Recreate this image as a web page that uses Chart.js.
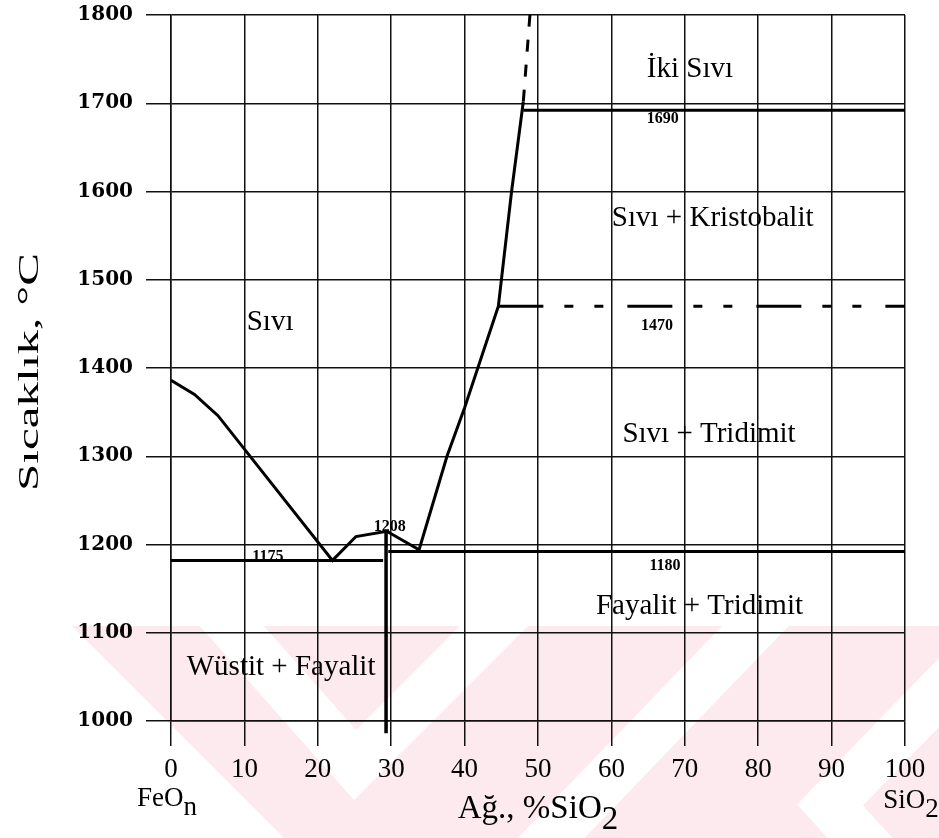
<!DOCTYPE html>
<html>
<head>
<meta charset="utf-8">
<script src="https://cdn.jsdelivr.net/npm/chart.js@4.4.0/dist/chart.umd.min.js"></script>
<style>
  html, body { margin: 0; background: #fff; }
  canvas { display: block; }
</style>
</head>
<body>
<canvas id="phaseChart" width="939" height="838"></canvas>
<script>
// FeO - SiO2 phase diagram
const xTicks = [0, 10, 20, 30, 40, 50, 60, 70, 80, 90, 100];
const yTicks = [1000, 1100, 1200, 1300, 1400, 1500, 1600, 1700, 1800];

// liquidus, from FeO side through both eutectics up to the monotectic
const liquidusX = [0, 3.2, 6.4, 22.0, 25.2, 29.4, 33.8, 37.6, 40.0, 44.6, 46.4, 48.0];
const liquidusY = [1386, 1370, 1346, 1182, 1209, 1215, 1194, 1300, 1355, 1470, 1600, 1702];

const eutecticLeftX = [0, 28.9];
const eutecticLeftY = [1182, 1182];
const fayaliteX = [29.3, 29.3];
const fayaliteY = [1215, 986];
const eutecticRightX = [29.6, 100];
const eutecticRightY = [1192, 1192];
const tridymiteX = [44.6, 100];
const tridymiteY = [1470, 1470];
const monotecticX = [48.0, 100];
const monotecticY = [1692, 1692];
const immiscibleX = [48.0, 48.9];
const immiscibleY = [1702, 1800];

// region names
const regionText = ['İki Sıvı', 'Sıvı + Kristobalit', 'Sıvı', 'Sıvı + Tridimit', 'Fayalit + Tridimit', 'Wüstit + Fayalit'];
const regionX = [70.7, 73.8, 13.5, 73.3, 72.0, 15.0];
const regionY = [1738, 1570, 1452, 1325, 1130, 1061];

// temperature marks
const tempText = ['1690', '1470', '1208', '1175', '1180'];
const tempX = [67.0, 66.2, 29.8, 13.2, 67.3];
const tempY = [1682, 1448, 1220, 1186, 1176];

const pts = (xs, ys) => xs.map((x, i) => ({ x: x, y: ys[i] }));

function line(xs, ys, width, dash, clip) {
    return {
        data: pts(xs, ys),
        showLine: true,
        borderColor: '#000',
        borderWidth: width,
        borderDash: dash || [],
        pointRadius: 0,
        tension: 0,
        clip: clip === undefined ? 0 : clip
    };
}

// pale pink chevrons of the scan watermark
const watermark = {
    id: 'watermark',
    beforeDraw(chart) {
        const c = chart.ctx;
        c.save();
        c.fillStyle = '#fff';
        c.fillRect(0, 0, chart.width, chart.height);
        c.beginPath();
        c.rect(0, 626, chart.width, chart.height - 626);
        c.clip();
        c.fillStyle = '#fdeaee';
        c.fillRect(0, 626, chart.width, chart.height - 626);
        c.fillStyle = '#fff';
        c.beginPath();
        c.moveTo(0, 626); c.lineTo(72, 626); c.lineTo(284, 838); c.lineTo(0, 838);
        c.fill();
        c.strokeStyle = '#fff';
        c.lineWidth = 48;
        c.lineCap = 'butt';
        c.beginPath();
        c.moveTo(200, 590); c.lineTo(355, 765); c.lineTo(530, 590);
        c.stroke();
        c.beginPath();
        c.moveTo(790, 590); c.lineTo(530, 860);
        c.stroke();
        c.beginPath();
        c.moveTo(990, 640); c.lineTo(830, 805); c.lineTo(880, 860);
        c.stroke();
        c.restore();
    }
};

function subText(c, main, sub, cx, base, font, drop) {
    c.font = font;
    const w1 = c.measureText(main).width;
    const w2 = c.measureText(sub).width;
    const left = cx - (w1 + w2) / 2;
    c.textAlign = 'left';
    c.textBaseline = 'alphabetic';
    c.fillText(main, left, base);
    c.fillText(sub, left + w1, base + drop);
}

const labels = {
    id: 'labels',
    afterDraw(chart) {
        const c = chart.ctx;
        const xs = chart.scales.x, ys = chart.scales.y;
        c.save();
        c.fillStyle = '#000';
        c.textAlign = 'center';
        c.textBaseline = 'middle';
        c.font = '29px "Liberation Serif"';
        regionText.forEach((t, i) => {
            c.fillText(t, xs.getPixelForValue(regionX[i]), ys.getPixelForValue(regionY[i]));
        });
        c.font = 'bold 16px "Liberation Serif"';
        tempText.forEach((t, i) => {
            c.fillText(t, xs.getPixelForValue(tempX[i]), ys.getPixelForValue(tempY[i]));
        });

        // axis end names and x title with subscripts
        subText(c, 'FeO', 'n', xs.getPixelForValue(0) - 4, 806, '27px "Liberation Serif"', 9);
        subText(c, 'SiO', '2', xs.getPixelForValue(100) + 6, 808, '27px "Liberation Serif"', 9);
        subText(c, 'Ağ., %SiO', '2', 538, 818, '33px "Liberation Serif"', 11);

        // y title, drawn stretched like the scan
        c.translate(30, 372);
        c.rotate(-Math.PI / 2);
        c.font = '30px "Liberation Serif"';
        const t = 'Sıcaklık, °C';
        const w = c.measureText(t).width;
        c.scale(238 / w, 1);
        c.textAlign = 'center';
        c.textBaseline = 'middle';
        c.fillText(t, 0, 0);
        c.restore();
    }
};

new Chart(document.getElementById('phaseChart'), {
    type: 'scatter',
    data: {
        datasets: [
            line(liquidusX, liquidusY, 3),
            line(eutecticLeftX, eutecticLeftY, 3),
            line(fayaliteX, fayaliteY, 3.5, null, false),
            line(eutecticRightX, eutecticRightY, 3),
            line(tridymiteX, tridymiteY, 3, [45, 21, 9, 21, 9, 24]),
            line(monotecticX, monotecticY, 3),
            line(immiscibleX, immiscibleY, 3, [12, 13])
        ]
    },
    options: {
        responsive: false,
        animation: false,
        layout: { padding: { top: 15, right: 34, left: 0, bottom: 0 } },
        plugins: {
            legend: { display: false },
            tooltip: { enabled: false }
        },
        scales: {
            x: {
                type: 'linear',
                min: 0,
                max: 100,
                afterFit(s) { s.height = 117; s.paddingLeft = 0; s.paddingRight = 0; },
                afterBuildTicks(s) { s.ticks = xTicks.map(v => ({ value: v })); },
                ticks: {
                    color: '#000',
                    padding: 8,
                    maxRotation: 0,
                    callback: v => String(v),
                    font: { family: '"Liberation Serif"', size: 27 }
                },
                grid: { color: '#111', lineWidth: 1.5, tickLength: 25 },
                border: { color: '#111', width: 1.5 }
            },
            y: {
                type: 'linear',
                min: 1000,
                max: 1800,
                afterFit(s) { s.width = 171; s.paddingTop = 0; s.paddingBottom = 0; },
                afterBuildTicks(s) { s.ticks = yTicks.map(v => ({ value: v })); },
                ticks: {
                    color: '#000',
                    padding: 13,
                    callback: v => String(v),
                    font: { family: '"DejaVu Serif"', size: 20, weight: 'bold' }
                },
                grid: { color: '#111', lineWidth: 1.5, tickLength: 25 },
                border: { color: '#111', width: 1.5 }
            }
        }
    },
    plugins: [watermark, labels]
});
</script>
</body>
</html>
